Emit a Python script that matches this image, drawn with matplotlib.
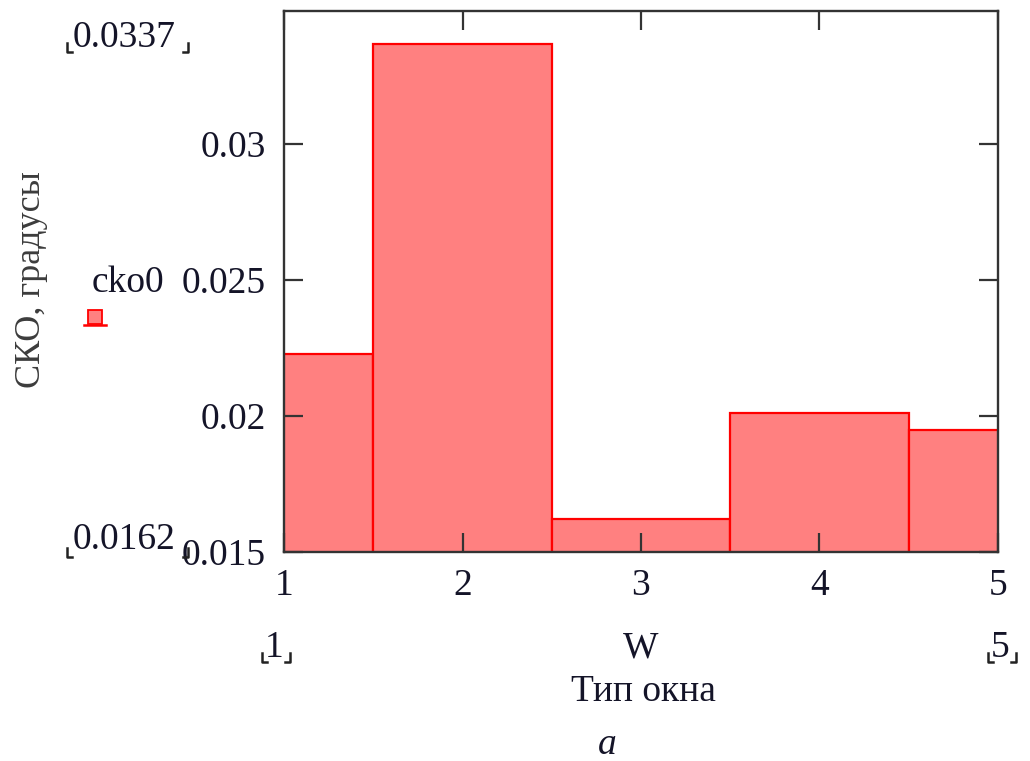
import matplotlib
matplotlib.use("Agg")
import matplotlib.pyplot as plt
from matplotlib.lines import Line2D
from matplotlib.patches import Rectangle

plt.rcParams["font.family"] = ["Liberation Serif", "DejaVu Serif"]

window = [1, 2, 3, 4, 5]
cko0 = [0.0223, 0.0337, 0.0162, 0.0201, 0.0195]
yticks = [0.015, 0.02, 0.025, 0.03]
ytick_labels = ["0.015", "0.02", "0.025", "0.03"]

FILL = "#ff8080"
EDGE = "#ff0000"
AXC = "#333333"
TXT = "#141428"
W, H = 1030, 761

fig = plt.figure(figsize=(W / 100, H / 100), dpi=100)
ax = fig.add_axes([284 / W, 1 - 552 / H, (998 - 284) / W, (552 - 11) / H])

ax.bar(window, cko0, width=1.0, align="center", color=FILL,
       edgecolor=EDGE, linewidth=1.6)

ax.set_xlim(1, 5)
ax.set_ylim(0.015, 0.0349)
ax.set_xticks(window)
ax.set_xticklabels([str(w) for w in window])
ax.set_yticks(yticks)
ax.set_yticklabels(ytick_labels)

for s in ax.spines.values():
    s.set_color(AXC)
    s.set_linewidth(1.7)
ax.tick_params(direction="in", length=14, width=1.6, color=AXC,
               top=True, right=True, labelsize=27, labelcolor=TXT)
ax.tick_params(axis="y", pad=13)
ax.tick_params(axis="x", pad=12)


def px(x, y):
    return x / W, 1 - y / H


def bracket(x0, x1, y, h=9):
    # Mathcad-style range placeholder corners
    for xs, ys in (([x0, x0, x0 + 5], [y - h, y, y]),
                   ([x1, x1, x1 - 5], [y - h, y, y])):
        fig.add_artist(Line2D([x / W for x in xs], [1 - v / H for v in ys],
                              color="#222222", lw=1.8))


def ftext(x, y, s, **kw):
    kw.setdefault("fontsize", 27)
    kw.setdefault("color", TXT)
    fig.text(*px(x, y), s, ha=kw.pop("ha", "center"), va=kw.pop("va", "center"), **kw)


# y range labels
ftext(73, 38, f"{max(cko0):.4f}", ha="left")
bracket(67, 188, 52)
ftext(73, 540, f"{min(cko0):.4f}", ha="left")
bracket(67, 188, 557)

# series name and legend glyph
ftext(92, 283, "cko0", ha="left")
fig.add_artist(Rectangle(px(88, 324), 14 / W, 14 / H, facecolor=FILL,
                         edgecolor=EDGE, lw=1.3))
fig.add_artist(Line2D([84 / W, 106 / W], [1 - 325 / H] * 2, color=EDGE, lw=1.8))

# y label
fig.text(*px(32, 280), "СКО, градусы", rotation=90, ha="center", va="center",
         fontsize=26, color="#3c3c3c")

# x range labels and axis label
ftext(274, 648, str(min(window)))
bracket(262, 290, 662)
ftext(1000, 648, str(max(window)))
bracket(988, 1016, 662)
ftext(641, 648, "W")
ftext(643, 692, "Тип окна")
ftext(607, 745, "a", style="italic")

fig.savefig("out.png", dpi=100)
